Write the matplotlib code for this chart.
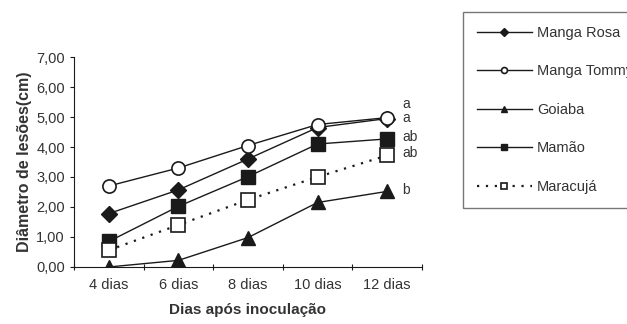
import matplotlib.pyplot as plt

plt.rcParams['font.family'] = ['Liberation Sans', 'DejaVu Sans']

dias = ['4 dias', '6 dias', '8 dias', '10 dias', '12 dias']
manga_rosa = [1.78, 2.57, 3.60, 4.65, 4.95]
manga_tommy = [2.70, 3.30, 4.05, 4.75, 4.98]
goiaba = [0.00, 0.22, 0.98, 2.15, 2.52]
mamao = [0.85, 2.02, 3.01, 4.10, 4.27]
maracuja = [0.56, 1.40, 2.24, 3.00, 3.72]
letras = ['a', 'a', 'ab', 'ab', 'b']
letras_y = [5.45, 4.98, 4.33, 3.80, 2.57]

cor = '#1a1a1a'
txt = '#333333'
fig = plt.figure(figsize=(6.27, 3.24), dpi=100)
ax = fig.add_axes([0.118, 0.176, 0.555, 0.648])

x = range(len(dias))
ax.plot(x, manga_rosa, color=cor, lw=1, marker='D', ms=8, mfc=cor, label='Manga Rosa')
ax.plot(x, manga_tommy, color=cor, lw=1, marker='o', ms=9.5, mfc='white', mew=1.2, label='Manga Tommy')
ax.plot(x, goiaba, color=cor, lw=1, marker='^', ms=10, mfc=cor, label='Goiaba')
ax.plot(x, mamao, color=cor, lw=1, marker='s', ms=10.5, mfc=cor, label='Mamão')
ax.plot(x, maracuja, color=cor, lw=1.6, ls=(0, (1, 3)), marker='s', ms=10.5, mfc='white', mew=1.2, label='Maracujá')

for s, yy in zip(letras, letras_y):
    ax.text(4.22, yy, s, fontsize=10, color=txt, va='center', ha='left')

ax.set_xlim(-0.5, 4.5)
ax.set_ylim(0, 7)
ax.set_xticks([i - 0.5 for i in range(6)])
ax.set_xticklabels([])
ax.set_xticks(list(x), minor=True)
ax.set_xticklabels(dias, minor=True)
ax.tick_params(axis='x', which='minor', length=0, labelsize=10.5, colors=txt, pad=8)
ax.tick_params(axis='x', which='major', length=4, direction='inout', color=cor)
ax.set_yticks(range(8))
ax.set_yticklabels(['%d,00' % v for v in range(8)])
ax.tick_params(axis='y', length=3, labelsize=10.5, labelcolor=txt, color=cor)
for s in ['top', 'right']:
    ax.spines[s].set_visible(False)
for s in ['left', 'bottom']:
    ax.spines[s].set_color(cor)

ax.set_ylabel('Diâmetro de lesões(cm)', fontsize=11.5, fontweight='bold', color=txt, labelpad=3)
ax.set_xlabel('Dias após inoculação', fontsize=11, fontweight='bold', color=txt, labelpad=8)

leg = fig.legend(loc='upper left', bbox_to_anchor=(0.738, 0.373, 0.35, 0.59), mode='expand',
                 borderaxespad=0, markerscale=0.45, handlelength=3.8, handletextpad=0.35,
                 labelspacing=1.68, fontsize=10.5, frameon=True, fancybox=False,
                 edgecolor='#555555', borderpad=0.95)
leg.get_frame().set_linewidth(1)
for t in leg.get_texts():
    t.set_color(txt)

fig.savefig('out.png', dpi=100)
